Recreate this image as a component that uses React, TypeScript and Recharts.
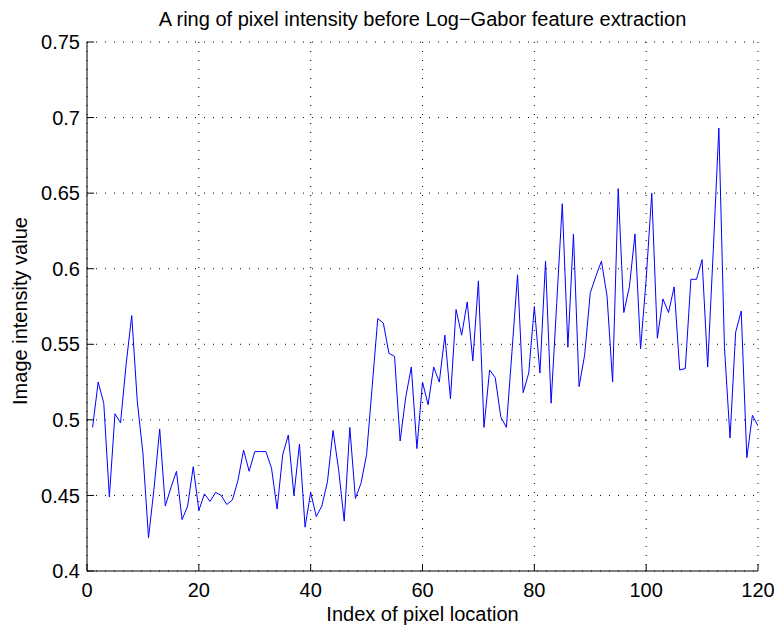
import { LineChart, Line, XAxis, YAxis, CartesianGrid } from "recharts";

const TITLE = "A ring of pixel intensity before Log\u2212Gabor feature extraction";
const X_LABEL = "Index of pixel location";
const Y_LABEL = "Image intensity value";

const X_TICKS = [0, 20, 40, 60, 80, 100, 120];
const Y_TICKS = [0.4, 0.45, 0.5, 0.55, 0.6, 0.65, 0.7, 0.75];

// intensity sampled along the ring, pixel index 1..120
const intensity = [
  0.495, 0.525, 0.511, 0.449, 0.504, 0.498, 0.537, 0.569, 0.512, 0.478,
  0.422, 0.455, 0.494, 0.443, 0.455, 0.466, 0.434, 0.443, 0.469, 0.44,
  0.451, 0.446, 0.452, 0.45, 0.444, 0.447, 0.46, 0.48, 0.466, 0.479,
  0.479, 0.479, 0.468, 0.441, 0.477, 0.49, 0.45, 0.484, 0.429, 0.452,
  0.436, 0.443, 0.459, 0.493, 0.467, 0.433, 0.495, 0.448, 0.458, 0.477,
  0.522, 0.567, 0.564, 0.544, 0.542, 0.486, 0.515, 0.535, 0.481, 0.525,
  0.51, 0.535, 0.525, 0.556, 0.514, 0.573, 0.556, 0.578, 0.539, 0.592,
  0.495, 0.533, 0.528, 0.502, 0.495, 0.545, 0.596, 0.518, 0.531, 0.575,
  0.531, 0.605, 0.511, 0.577, 0.643, 0.548, 0.623, 0.522, 0.543, 0.584,
  0.595, 0.605, 0.582, 0.525, 0.653, 0.571, 0.588, 0.623, 0.547, 0.593,
  0.65, 0.554, 0.58, 0.571, 0.588, 0.533, 0.534, 0.593, 0.593, 0.606,
  0.535, 0.612, 0.693, 0.548, 0.488, 0.558, 0.572, 0.475, 0.503, 0.496,
];

const data = intensity.map((v, i) => ({ idx: i + 1, v }));

const FONT = "'Liberation Sans', Arial, sans-serif";
const tickStyle = { fontSize: 20, fill: "#000", fontFamily: FONT };
const blank = () => "";

export default function App() {
  return (
    <div style={{ position: "absolute", left: 0, top: 0, width: 774, height: 626, background: "#fff", fontFamily: FONT }}>
      <LineChart width={774} height={626} data={data} margin={{ top: 42, right: 16, bottom: 0, left: 0 }}>
        <CartesianGrid xAxisId="b" yAxisId="l" stroke="#000" strokeDasharray="1 8" strokeWidth={1} />
        <XAxis
          xAxisId="b" dataKey="idx" type="number" domain={[0, 120]} ticks={X_TICKS} height={55}
          tickSize={-7} tickMargin={19} tick={tickStyle} stroke="#000" allowDataOverflow
        />
        <XAxis
          xAxisId="t" orientation="top" dataKey="idx" type="number" domain={[0, 120]} ticks={X_TICKS} height={0}
          tickSize={-7} tickFormatter={blank} stroke="#000"
        />
        <YAxis
          yAxisId="l" type="number" domain={[0.4, 0.75]} ticks={Y_TICKS} width={87}
          tickSize={-7} tickMargin={14} tick={tickStyle} stroke="#000" allowDataOverflow
          tickFormatter={(v: number) => String(Number(v.toFixed(2)))}
        />
        <YAxis
          yAxisId="r" orientation="right" type="number" domain={[0.4, 0.75]} ticks={Y_TICKS} width={0}
          tickSize={-7} tickFormatter={blank} stroke="#000"
        />
        <Line
          xAxisId="b" yAxisId="l" type="linear" dataKey="v" stroke="#0000ff" strokeWidth={1}
          dot={false} isAnimationActive={false}
        />
      </LineChart>
      <div style={{ position: "absolute", left: 87, width: 671, top: 8, textAlign: "center", fontSize: 20, color: "#000", whiteSpace: "nowrap" }}>
        {TITLE}
      </div>
      <div style={{ position: "absolute", left: 87, width: 671, top: 603, textAlign: "center", fontSize: 20, color: "#000" }}>
        {X_LABEL}
      </div>
      <div
        style={{
          position: "absolute", left: 20, top: 311, fontSize: 20, color: "#000", whiteSpace: "nowrap",
          transform: "translate(-50%, -50%) rotate(-90deg)",
        }}
      >
        {Y_LABEL}
      </div>
    </div>
  );
}
